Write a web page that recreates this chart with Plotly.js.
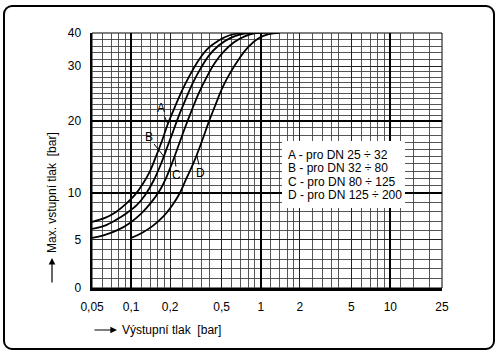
<!DOCTYPE html>
<html>
<head>
<meta charset="utf-8">
<script src="https://cdn.plot.ly/plotly-3.0.1.min.js"></script>
<style>
  html, body { margin: 0; padding: 0; background: #fff; }
  #chart { position: absolute; left: 0; top: 0; width: 500px; height: 358px; }
  #frame { position: absolute; left: 3px; top: 5px; width: 488px; height: 341px;
           border: 2.5px solid #000; border-radius: 9px; pointer-events: none; }
</style>
</head>
<body>
<div id="chart"></div>
<div id="frame"></div>
<script>
// ---- data ----
const seriesNames = ['A', 'B', 'C', 'D'];
const dnRanges = ['25 ÷ 32', '32 ÷ 80', '80 ÷ 125', '125 ÷ 200'];

const xA = [0.05, 0.0629, 0.0765, 0.0913, 0.107, 0.123, 0.140, 0.155, 0.173, 0.192, 0.2175, 0.246, 0.284, 0.333, 0.390, 0.474, 0.576, 0.700, 0.851];
const yA = [6.92, 7.34, 7.98, 8.83, 9.79, 11.24, 13.03, 14.96, 17.17, 19.52, 22.48, 25.41, 28.35, 31.88, 35.31, 37.81, 39.38, 40.0, 40.1];

const xB = [0.05, 0.0619, 0.0765, 0.0929, 0.111, 0.130, 0.150, 0.170, 0.189, 0.210, 0.233, 0.264, 0.299, 0.345, 0.397, 0.474, 0.576, 0.713, 0.946];
const yB = [6.17, 6.49, 7.13, 7.87, 8.72, 9.89, 11.79, 14.0, 16.21, 18.41, 20.83, 23.95, 26.88, 29.63, 33.13, 36.25, 38.44, 39.69, 40.1];

const xC = [0.05, 0.0629, 0.0792, 0.098, 0.119, 0.142, 0.167, 0.189, 0.210, 0.233, 0.260, 0.294, 0.333, 0.383, 0.442, 0.518, 0.618, 0.752, 0.913, 1.13];
const yC = [5.21, 5.53, 6.06, 6.81, 7.77, 8.94, 10.41, 12.34, 14.41, 16.62, 18.97, 21.93, 25.05, 27.98, 30.94, 34.38, 37.19, 39.06, 40.0, 40.1];

const xD = [0.1, 0.121, 0.147, 0.176, 0.206, 0.238, 0.264, 0.294, 0.321, 0.357, 0.397, 0.450, 0.509, 0.586, 0.688, 0.806, 0.963, 1.15, 1.40];
const yD = [5.21, 5.74, 6.49, 7.45, 8.62, 10.0, 11.79, 13.59, 15.24, 17.45, 19.79, 23.03, 26.15, 28.90, 32.5, 35.94, 38.44, 39.69, 40.1];

// points on each curve where the letter labels point
const labelX = [0.192, 0.178, 0.2175, 0.321];
const labelY = [19.52, 15.1, 14.97, 15.24];

// axes
const xTickVals = [0.05, 0.1, 0.2, 0.5, 1, 2, 5, 10, 25];
const xTickText = ['0,05', '0,1', '0,2', '0,5', '1', '2', '5', '10', '25'];
const xMinorGrid = [0.06, 0.07, 0.08, 0.09, 0.12, 0.14, 0.16, 0.18, 0.25, 0.3, 0.35, 0.4,
                    0.6, 0.7, 0.8, 0.9, 1.2, 1.4, 1.6, 1.8, 2.5, 3, 3.5, 4, 6, 7, 8, 9, 12, 15, 20];
const xHeavyGrid = [0.1, 1, 10];
const yTickVals = [0, 5, 10, 20, 30, 40];
const yMinorGrid = [1, 2, 3, 4, 6, 7, 8, 9, 11, 12, 13, 14, 15, 16, 17, 18, 19,
                    21, 22, 23, 24, 25, 26, 27, 28, 29, 32, 34, 36, 38];
const yHeavyGrid = [10, 20];

// ---- non-uniform pressure scale of the nomogram (value -> axis units) ----
const yScaleVals = [0, 5, 10, 20, 30, 40];
const yScaleUnits = [0, 48, 95, 167.5, 222, 255];
function yS(v) {
  const n = yScaleVals.length;
  let i = 0;
  if (v >= yScaleVals[n - 1]) i = n - 2;
  else { while (i < n - 2 && v > yScaleVals[i + 1]) i++; }
  const t = (v - yScaleVals[i]) / (yScaleVals[i + 1] - yScaleVals[i]);
  return yScaleUnits[i] + t * (yScaleUnits[i + 1] - yScaleUnits[i]);
}

const xs = [xA, xB, xC, xD];
const ys = [yA, yB, yC, yD];
const traces = xs.map((x, i) => ({
  type: 'scatter', mode: 'lines', name: seriesNames[i],
  x: x, y: ys[i].map(yS),
  line: { color: '#000', width: 1.8, shape: 'spline', smoothing: 1 },
  hoverinfo: 'skip', showlegend: false
}));
// empty trace so the overlay axes (heavy grid lines) are drawn
traces.unshift({ type: 'scatter', mode: 'lines', x: [], y: [], xaxis: 'x2', yaxis: 'y2', showlegend: false, hoverinfo: 'skip' });

const FONT = 'Liberation Sans, Arial, Helvetica, sans-serif';
const PX0 = 92, PX1 = 442, PY0 = 33, PY1 = 288;
const px = v => (v - PX0) / (PX1 - PX0);
const py = v => (PY1 - v) / (PY1 - PY0);

const labelOffsets = [[-7, -16], [-15, -19], [2, 18], [4, 18]];
const annotations = seriesNames.map((s, i) => ({
  x: Math.log10(labelX[i]), y: yS(labelY[i]), xref: 'x', yref: 'y',
  text: s, showarrow: true, arrowhead: 0, arrowwidth: 1, arrowcolor: '#000',
  ax: labelOffsets[i][0], ay: labelOffsets[i][1], standoff: 0,
  font: { family: FONT, size: 12, color: '#000' }
}));

const legendLineY = [155, 168.3, 181.6, 194.9];
seriesNames.forEach((s, i) => {
  annotations.push({
    xref: 'paper', yref: 'paper', x: px(286), y: py(legendLineY[i]),
    xanchor: 'left', yanchor: 'middle', showarrow: false,
    text: s + ' - pro DN ' + dnRanges[i],
    font: { family: FONT, size: 12, color: '#000' }
  });
});

// axis titles with arrows
annotations.push({
  xref: 'paper', yref: 'paper', x: px(120), y: py(330), xanchor: 'left', yanchor: 'middle',
  showarrow: false, text: 'Výstupní tlak  [bar]', font: { family: FONT, size: 12, color: '#000' }
});
annotations.push({
  xref: 'paper', yref: 'paper', x: px(117), y: py(330), text: '', showarrow: true,
  arrowhead: 2, arrowsize: 1.1, arrowwidth: 1.2, arrowcolor: '#000', ax: -24, ay: 0
});
annotations.push({
  xref: 'paper', yref: 'paper', x: px(52), y: py(193), xanchor: 'center', yanchor: 'middle',
  textangle: -90, showarrow: false, text: 'Max. vstupní tlak  [bar]',
  font: { family: FONT, size: 12, color: '#000' }
});
annotations.push({
  xref: 'paper', yref: 'paper', x: px(52), y: py(258), text: '', showarrow: true,
  arrowhead: 2, arrowsize: 1.1, arrowwidth: 1.2, arrowcolor: '#000', ax: 0, ay: 26
});

const xRange = [Math.log10(0.05) - 0.0005, Math.log10(25) + 0.0005];
const yRange = [-0.2, 255.2];

const layout = {
  width: 500, height: 358,
  margin: { l: PX0, r: 500 - PX1, t: PY0, b: 358 - PY1, pad: 0 },
  paper_bgcolor: '#fff', plot_bgcolor: '#fff',
  showlegend: false,
  xaxis: {
    type: 'log', range: xRange,
    tickmode: 'array', tickvals: xTickVals, ticktext: xTickText,
    ticks: '', ticklabelstandoff: 6,
    showgrid: true, gridcolor: '#222', gridwidth: 1,
    minor: { tickmode: 'array', tickvals: xMinorGrid, showgrid: true, gridcolor: '#444', gridwidth: 0.9, ticks: '' },
    showline: true, linecolor: '#000', linewidth: 2.5, mirror: false,
    zeroline: false, fixedrange: true,
    tickfont: { family: FONT, size: 12, color: '#000' }
  },
  yaxis: {
    type: 'linear', range: yRange,
    tickmode: 'array', tickvals: yTickVals.map(yS), ticktext: yTickVals.map(String),
    ticks: '', ticklabelstandoff: 6,
    showgrid: true, gridcolor: '#222', gridwidth: 1,
    minor: { tickmode: 'array', tickvals: yMinorGrid.map(yS), showgrid: true, gridcolor: '#444', gridwidth: 0.9, ticks: '' },
    showline: true, linecolor: '#000', linewidth: 2.5, mirror: false,
    zeroline: false, fixedrange: true,
    tickfont: { family: FONT, size: 12, color: '#000' }
  },
  xaxis2: {
    type: 'log', range: xRange, overlaying: 'x', anchor: 'y2', side: 'bottom',
    tickmode: 'array', tickvals: xHeavyGrid, showticklabels: false, ticks: '',
    showgrid: true, gridcolor: '#000', gridwidth: 2, zeroline: false, showline: false, fixedrange: true
  },
  yaxis2: {
    type: 'linear', range: yRange, overlaying: 'y', anchor: 'x2', side: 'left',
    tickmode: 'array', tickvals: yHeavyGrid.map(yS), showticklabels: false, ticks: '',
    showgrid: true, gridcolor: '#000', gridwidth: 2, zeroline: false, showline: false, fixedrange: true
  },
  shapes: [
    { type: 'rect', xref: 'paper', yref: 'paper', x0: 0, x1: 1, y0: 0, y1: 1,
      line: { color: '#000', width: 1 }, fillcolor: 'rgba(0,0,0,0)', layer: 'below' },
    { type: 'rect', xref: 'paper', yref: 'paper', x0: px(282), x1: px(405), y0: py(208), y1: py(141),
      line: { width: 0 }, fillcolor: '#fff', layer: 'above' }
  ],
  annotations: annotations
};

Plotly.newPlot('chart', traces, layout, { displayModeBar: false, staticPlot: true });
</script>
</body>
</html>
